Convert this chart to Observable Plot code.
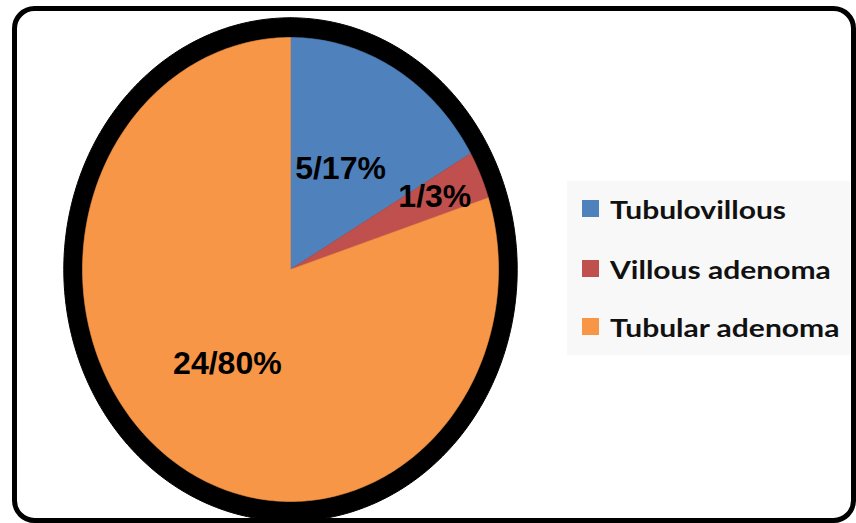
<!DOCTYPE html>
<html><head><meta charset="utf-8">
<script src="https://cdn.jsdelivr.net/npm/d3@7"></script>
<script src="https://cdn.jsdelivr.net/npm/@observablehq/plot@0.6"></script>
<style>
html,body{margin:0;padding:0;background:#fff;}
#wrap{position:relative;width:856px;height:523px;overflow:hidden;}
#wrap svg{position:absolute;left:0;top:0;}
#legend{position:absolute;left:567px;top:181px;width:283px;height:174px;background:#f8f8f8;font-family:Lato,"Open Sans",sans-serif;font-weight:bold;font-size:25px;color:#111;}
.row{position:absolute;left:15px;height:19px;display:flex;align-items:center;white-space:nowrap;}
.sw{width:17px;height:17px;margin-right:11px;flex:none;}
.tx{display:inline-block;transform:scaleX(1.2);transform-origin:0 50%;}
</style></head><body><div id="wrap"><div id="legend"></div></div>
<script>
const categories = ["Tubulovillous", "Villous adenoma", "Tubular adenoma"];
const counts = [5, 1, 24];
const labels = ["5/17%", "1/3%", "24/80%"];
const colors = ["#4f81bd", "#c0504d", "#f79646"];

const rows = categories.map((name, i) => ({name, count: counts[i], label: labels[i], color: colors[i]}));
const total = d3.sum(counts);
const arcs = d3.pie().sort(null).value(d => d.count)(rows);

function wedge(a) {
  const n = Math.max(4, Math.ceil((a.endAngle - a.startAngle) / (Math.PI / 180)));
  const pts = [{x: 0, y: 0}];
  for (let i = 0; i <= n; i++) {
    const t = a.startAngle + (a.endAngle - a.startAngle) * i / n;
    pts.push({x: Math.sin(t), y: Math.cos(t)});
  }
  pts.push({x: 0, y: 0});
  return pts;
}
const rim = d3.range(0, 361).map(k => {
  const t = k * Math.PI / 180;
  return {x: 1.09 * Math.sin(t), y: 1.085 * Math.cos(t)};
});

const labelPos = arcs.map(a => {
  const mid = (a.startAngle + a.endAngle) / 2;
  const r = a.data.count / total < 0.05 ? 0.77 : 0.5;
  return {x: r * Math.sin(mid), y: r * Math.cos(mid), label: a.data.label};
});

const chart = Plot.plot({
  width: 856, height: 523,
  marginLeft: 14, marginTop: 8, marginRight: 3, marginBottom: 3,
  x: {domain: [-1, 1], range: [82, 498], axis: null},
  y: {domain: [-1, 1], range: [501, 37], axis: null},
  style: {background: "transparent", overflow: "visible"},
  marks: [
    Plot.line(rim, {x: "x", y: "y", fill: "black", stroke: "black", strokeWidth: 1}),
    ...arcs.map(a => Plot.line(wedge(a), {x: "x", y: "y", fill: a.data.color, stroke: a.data.color, strokeWidth: 0.6})),
    Plot.text(labelPos, {x: "x", y: "y", text: "label", fontSize: 32, fontWeight: "bold", fontFamily: "Liberation Sans, Arial, sans-serif", fill: "black", dx: -2}),
    Plot.frame({rx: 20, ry: 20, stroke: "black", strokeWidth: 5, fill: "none"})
  ]
});
const wrap = document.getElementById("wrap");
wrap.insertBefore(chart, wrap.firstChild);

const legend = document.getElementById("legend");
const rowTops = [18, 78, 136];
rows.forEach((d, i) => {
  const r = document.createElement("div");
  r.className = "row";
  r.style.top = rowTops[i] + "px";
  r.innerHTML = `<span class="sw" style="background:${d.color}"></span><span class="tx">${d.name}</span>`;
  legend.appendChild(r);
});
</script>
</body></html>
